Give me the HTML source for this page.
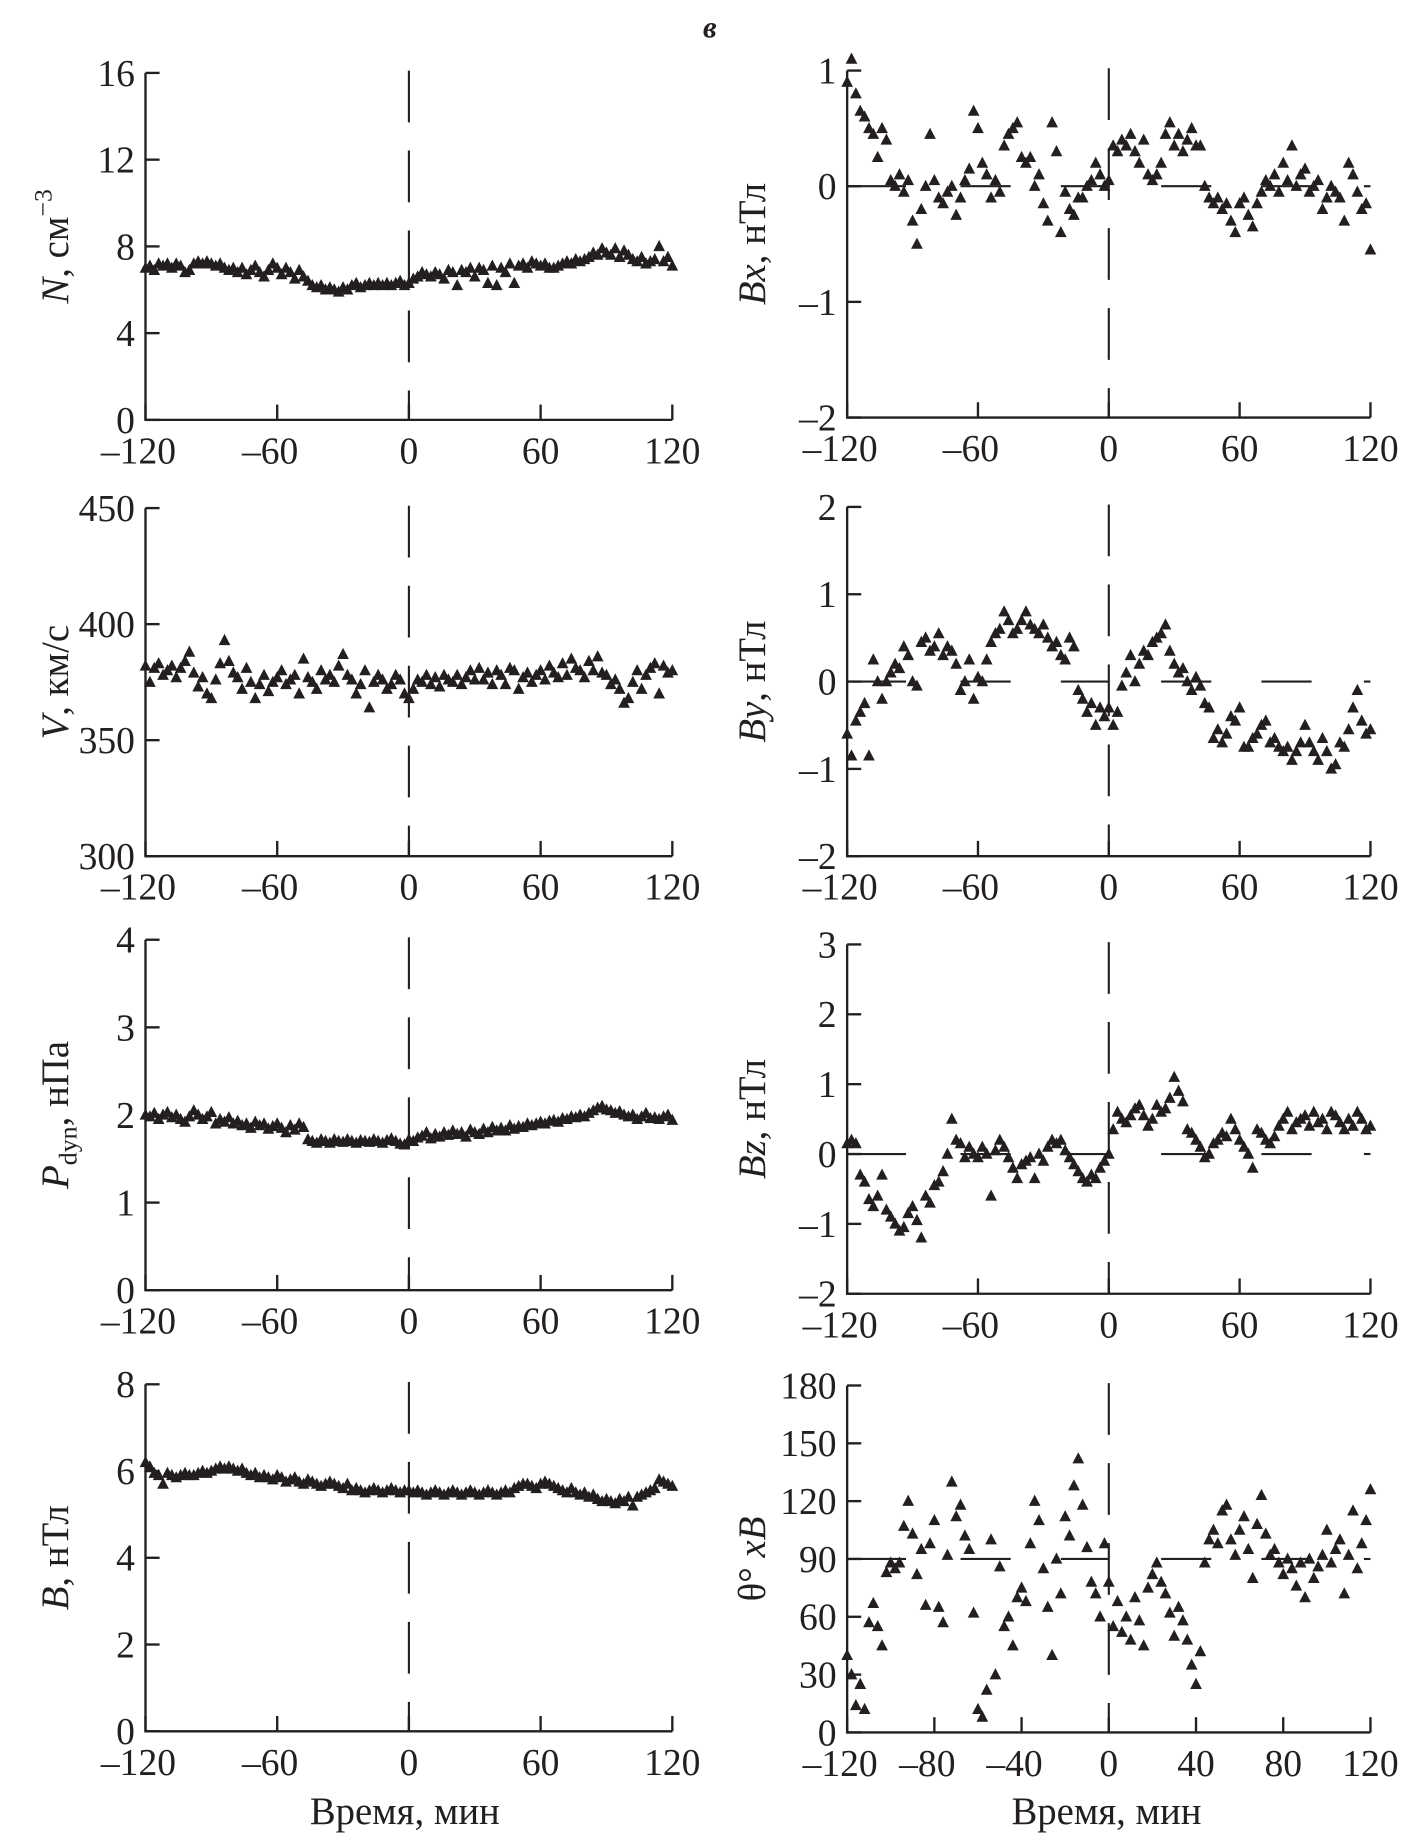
<!DOCTYPE html>
<html><head><meta charset="utf-8"><style>
html,body{margin:0;padding:0;background:#fff;}
svg{display:block;}
text{font-family:"Liberation Serif",serif;fill:#231f20;}
</style></head><body>
<svg id="fig" width="1408" height="1843" viewBox="0 0 1200 1567" preserveAspectRatio="none" xmlns="http://www.w3.org/2000/svg">
<text x="605" y="32" font-size="26" font-style="italic" font-weight="bold" text-anchor="middle">в</text>
<text x="345" y="1551" font-size="33" text-anchor="middle">Время,  мин</text>
<text x="943" y="1551" font-size="33" text-anchor="middle">Время,  мин</text>
</svg>
<script>
// data (time step 2 min, from -120 to 120)
const nValues=[7.0,7.1,6.9,7.2,7.1,7.2,7.0,7.2,7.1,6.8,6.9,
7.2,7.3,7.2,7.3,7.2,7.1,7.2,7.0,6.9,7.0,
6.8,7.0,6.7,6.9,7.1,6.8,6.6,6.9,7.2,7.0,
6.7,7.0,6.8,6.5,6.9,6.6,6.4,6.2,6.1,6.2,
6.0,6.1,6.0,5.9,6.1,6.0,6.2,6.3,6.1,6.2,
6.3,6.2,6.3,6.2,6.3,6.2,6.3,6.4,6.2,6.3,
6.5,6.6,6.8,6.7,6.6,6.8,6.7,6.5,6.9,6.8,
6.2,6.9,6.8,7.0,6.6,7.0,6.9,6.3,7.1,6.2,
7.0,6.8,7.2,6.3,7.1,7.2,7.0,7.3,7.2,7.1,
7.2,7.0,7.0,7.1,7.2,7.3,7.2,7.4,7.3,7.4,
7.5,7.7,7.6,7.9,7.7,7.6,7.9,7.5,7.8,7.6,
7.4,7.3,7.5,7.2,7.3,7.4,8.0,7.3,7.5,7.1];
const vValues=[382,375,381,383,378,380,382,377,381,384,388,
379,373,377,370,368,376,383,393,384,379,
377,372,381,375,368,374,378,371,375,377,
380,374,376,378,370,385,377,375,372,380,
376,378,375,382,387,378,376,370,374,380,
364,375,378,376,372,374,378,376,370,368,
372,376,375,378,374,377,373,378,376,375,
378,374,377,380,376,381,376,379,374,380,
378,374,381,380,372,377,379,375,378,380,
376,382,379,377,383,378,385,381,380,377,
384,380,386,379,378,374,376,372,366,368,
375,380,372,378,381,383,370,382,379,380];
const pValues=[2.0,1.98,2.02,1.95,2.0,2.03,1.97,2.0,1.95,1.92,1.98,
2.05,2.0,1.95,1.98,2.03,1.9,1.95,1.92,1.97,1.9,
1.93,1.88,1.9,1.85,1.92,1.88,1.9,1.84,1.87,1.9,
1.85,1.8,1.88,1.83,1.9,1.86,1.72,1.7,1.68,1.72,
1.7,1.68,1.72,1.7,1.69,1.72,1.7,1.68,1.71,1.7,
1.69,1.72,1.7,1.68,1.71,1.73,1.7,1.67,1.66,1.72,
1.7,1.74,1.76,1.8,1.73,1.78,1.75,1.8,1.77,1.82,
1.78,1.8,1.75,1.83,1.8,1.78,1.84,1.8,1.86,1.82,
1.85,1.82,1.88,1.84,1.87,1.86,1.9,1.88,1.9,1.92,
1.9,1.93,1.94,1.92,1.96,1.95,1.98,1.97,2.0,1.98,
2.02,2.05,2.08,2.1,2.06,2.05,2.02,2.04,2.0,1.98,
2.0,1.95,1.98,2.02,1.96,1.97,1.95,1.98,2.0,1.94];
const bValues=[6.2,6.1,5.95,5.9,5.7,5.95,5.9,5.85,5.9,5.95,5.9,
5.9,5.95,6.0,5.95,6.0,6.05,6.1,6.05,6.1,6.05,
6.0,6.05,5.95,5.9,5.95,5.85,5.9,5.85,5.8,5.9,
5.85,5.75,5.8,5.85,5.75,5.7,5.8,5.75,5.7,5.65,
5.7,5.75,5.7,5.65,5.6,5.7,5.55,5.6,5.55,5.5,
5.55,5.6,5.55,5.5,5.55,5.6,5.55,5.5,5.55,5.55,
5.5,5.55,5.5,5.45,5.5,5.55,5.5,5.45,5.5,5.55,
5.5,5.45,5.5,5.55,5.5,5.45,5.5,5.55,5.5,5.45,
5.5,5.55,5.5,5.6,5.65,5.7,5.7,5.65,5.6,5.7,
5.75,5.7,5.65,5.6,5.55,5.5,5.6,5.5,5.45,5.5,
5.4,5.45,5.35,5.3,5.35,5.3,5.25,5.35,5.3,5.4,
5.2,5.4,5.45,5.5,5.55,5.6,5.8,5.75,5.7,5.65];
const bxValues=[0.9,1.1,0.8,0.65,0.6,0.5,0.45,0.25,0.5,0.4,0.05,
0.0,0.1,-0.05,0.05,-0.3,-0.5,-0.2,0.0,0.45,0.05,
-0.1,-0.15,-0.05,0.0,-0.25,-0.1,0.05,0.15,0.65,0.5,
0.2,0.1,-0.1,0.05,-0.05,0.35,0.45,0.5,0.55,0.25,
0.2,0.25,0.0,0.1,-0.15,-0.3,0.55,0.3,-0.4,-0.05,
-0.2,-0.25,-0.1,-0.1,0.0,0.05,0.2,0.1,0.0,0.05,
0.35,0.3,0.4,0.35,0.45,0.3,0.2,0.4,0.1,0.05,
0.1,0.2,0.45,0.55,0.35,0.45,0.3,0.4,0.5,0.35,
0.35,0.0,-0.1,-0.15,-0.1,-0.2,-0.15,-0.3,-0.4,-0.15,
-0.1,-0.25,-0.35,-0.15,-0.05,0.05,0.0,0.1,-0.05,0.2,
0.05,0.35,0.0,0.1,0.15,-0.05,0.0,0.05,-0.2,-0.1,
0.0,-0.05,-0.1,-0.3,0.2,0.1,-0.05,-0.2,-0.15,-0.55];
const byValues=[-0.6,-0.85,-0.45,-0.35,-0.25,-0.85,0.25,0.0,-0.2,0.0,0.1,
0.2,0.15,0.4,0.3,0.0,-0.05,0.45,0.5,0.35,0.4,
0.55,0.3,0.4,0.35,0.2,-0.1,0.0,0.25,-0.2,0.05,
0.0,0.25,0.45,0.55,0.6,0.8,0.7,0.55,0.6,0.7,
0.8,0.65,0.6,0.55,0.65,0.5,0.4,0.45,0.3,0.25,
0.5,0.4,-0.1,-0.2,-0.35,-0.25,-0.5,-0.3,-0.4,-0.3,
-0.5,-0.35,-0.05,0.1,0.3,0.0,0.2,0.35,0.3,0.45,
0.5,0.55,0.65,0.35,0.2,0.1,0.15,0.0,-0.1,0.05,
-0.05,-0.25,-0.3,-0.65,-0.55,-0.7,-0.6,-0.4,-0.45,-0.3,
-0.75,-0.75,-0.65,-0.6,-0.5,-0.45,-0.7,-0.65,-0.75,-0.8,
-0.75,-0.9,-0.8,-0.7,-0.5,-0.7,-0.8,-0.9,-0.65,-0.8,
-1.0,-0.95,-0.7,-0.75,-0.55,-0.3,-0.1,-0.45,-0.6,-0.55];
const bzValues=[0.15,0.2,0.15,-0.3,-0.4,-0.65,-0.75,-0.6,-0.3,-0.8,-0.9,
-1.0,-1.1,-1.05,-0.85,-0.75,-0.95,-1.2,-0.6,-0.7,-0.45,
-0.4,-0.25,0.0,0.5,0.2,0.15,-0.05,0.1,0.0,-0.05,
0.1,0.0,-0.6,0.05,0.2,0.1,-0.05,-0.2,-0.35,-0.15,
-0.1,-0.05,-0.35,0.0,-0.1,0.1,0.2,0.15,0.2,0.05,
-0.05,-0.15,-0.25,-0.35,-0.4,-0.3,-0.35,-0.2,-0.1,0.0,
0.35,0.6,0.5,0.45,0.55,0.65,0.7,0.55,0.4,0.5,
0.7,0.6,0.65,0.8,1.1,0.9,0.75,0.35,0.3,0.2,
0.1,-0.05,0.0,0.15,0.2,0.3,0.25,0.5,0.35,0.2,
0.1,0.0,-0.2,0.35,0.3,0.2,0.15,0.25,0.4,0.5,
0.6,0.35,0.45,0.5,0.55,0.4,0.6,0.45,0.5,0.35,
0.6,0.55,0.45,0.35,0.5,0.4,0.6,0.5,0.35,0.4];
const thetaValues=[40,30,14,25,12,57,67,55,45,83,88,
85,88,107,120,103,82,95,66,98,110,
65,57,92,130,112,118,102,95,62,12,
8,22,100,30,86,55,60,45,70,75,
68,98,120,110,85,65,40,90,72,112,
102,128,142,118,96,78,72,60,98,78,
55,68,52,60,48,70,58,45,75,82,
88,78,72,62,50,65,58,48,35,25,
42,88,100,105,98,115,118,100,92,105,
112,95,80,108,123,103,92,95,88,82,
90,85,76,88,70,90,80,86,92,105,
88,95,100,72,92,115,85,98,110,126];
const xTicks6=[-120,-60,0,60,120];
const xTicks4=[-120,-80,-40,0,40,80,120];
const nTicks=[0,4,8,12,16];
const vTicks=[300,350,400,450];
const pTicks=[0,1,2,3,4];
const bTicks=[0,2,4,6,8];
const bxTicks=[-2,-1,0,1];
const byTicks=[-2,-1,0,1,2];
const bzTicks=[-2,-1,0,1,2,3];
const thTicks=[0,30,60,90,120,150,180];
const refSegments=[[-120,-93],[-68,-45],[-22,0],[24,47],[70,93],[117,120]];

const NS='http://www.w3.org/2000/svg';
const svg=document.getElementById('fig');
function mk(tag,attrs,parent){const e=document.createElementNS(NS,tag);for(const k in attrs)e.setAttribute(k,attrs[k]);(parent||svg).appendChild(e);return e;}

const panels=[
 {name:'density',vals:nValues,x0:124,x1:573,yT:62,yB:357,min:0,max:16,ticks:nTicks,xt:xTicks6,ref:null,title:'N',unit:', см',sup:'−3',tx:58},
 {name:'speed',vals:vValues,x0:124,x1:573,yT:432,yB:728,min:300,max:450,ticks:vTicks,xt:xTicks6,ref:null,title:'V',unit:', км/с',tx:58},
 {name:'pressure',vals:pValues,x0:124,x1:573,yT:799,yB:1097,min:0,max:4,ticks:pTicks,xt:xTicks6,ref:null,title:'P',sub:'dyn',unit:', нПа',tx:58},
 {name:'field-magnitude',vals:bValues,x0:124,x1:573,yT:1177,yB:1472,min:0,max:8,ticks:bTicks,xt:xTicks6,ref:null,title:'B',unit:', нТл',tx:58},
 {name:'bx',vals:bxValues,x0:722,x1:1168,yT:60,yB:355,min:-2,max:1,ticks:bxTicks,xt:xTicks6,ref:0,title:'Bx',unit:', нТл',tx:652},
 {name:'by',vals:byValues,x0:722,x1:1168,yT:431,yB:728,min:-2,max:2,ticks:byTicks,xt:xTicks6,ref:0,title:'By',unit:', нТл',tx:652},
 {name:'bz',vals:bzValues,x0:722,x1:1168,yT:803,yB:1100,min:-2,max:3,ticks:bzTicks,xt:xTicks6,ref:0,title:'Bz',unit:', нТл',tx:652},
 {name:'theta',vals:thetaValues,x0:722,x1:1168,yT:1178,yB:1473,min:0,max:180,ticks:thTicks,xt:xTicks4,ref:90,title:'θ° ',title2:'xB',tx:652}
];

function fmt(v){return v<0?'–'+(-v):String(v);}

panels.forEach(p=>{
 const g=mk('g',{});
 
 
 const xs=t=>p.x0+(t+120)/240*(p.x1-p.x0);
 const ys=v=>p.yB-(v-p.min)/(p.max-p.min)*(p.yB-p.yT);
 const ax=mk('path',{d:`M${p.x0},${p.yT} L${p.x0},${p.yB} L${p.x1},${p.yB}`,fill:'none',stroke:'#231f20','stroke-width':2},g);
 
 
 p.ticks.forEach(v=>{
  const y=ys(v);
  mk('line',{x1:p.x0,x2:p.x0+12,y1:y,y2:y,stroke:'#231f20','stroke-width':2},g);
  const t=mk('text',{x:p.x0-9,y:y+11,'font-size':32,'text-anchor':'end'},g);
  t.textContent=fmt(v);
  
  
 });
 p.xt.forEach(v=>{
  const x=xs(v);
  mk('line',{x1:x,x2:x,y1:p.yB,y2:p.yB-13,stroke:'#231f20','stroke-width':2},g);
  const t=mk('text',{x:x-(v<0?6:0),y:p.yB+37,'font-size':32,'text-anchor':'middle'},g);
  t.textContent=fmt(v);
  
  
 });
 const vl=mk('line',{x1:xs(0),x2:xs(0),y1:p.yT-2,y2:p.yB,stroke:'#231f20','stroke-width':1.8,'stroke-dasharray':'44,24'},g);
 
 
 if(p.ref!==null){
  refSegments.forEach(s=>{
   const l=mk('line',{x1:xs(s[0]),x2:xs(s[1]),y1:ys(p.ref),y2:ys(p.ref),stroke:'#231f20','stroke-width':1.8},g);
   
   
  });
 }
 p.vals.forEach((v,i)=>{
  const t=-120+i*2;
  const cx=xs(t),cy=ys(v);
  const m=mk('path',{d:`M${cx},${cy-5.5} L${cx+5},${cy+4} L${cx-5},${cy+4} Z`,fill:'#231f20'},g);
  
  
 });
 const cy=(p.yT+p.yB)/2;
 const tt=mk('text',{transform:`translate(${p.tx},${cy}) rotate(-90)`,'font-size':33,'text-anchor':'middle'},g);
 
 
 if(p.title2){
  const a=mk('tspan',{},tt);a.textContent=p.title;
  const u=mk('tspan',{'font-style':'italic'},tt);u.textContent=p.title2;
 } else {
  const a=mk('tspan',{'font-style':'italic'},tt);a.textContent=p.title;
  if(p.sub){const s=mk('tspan',{'font-size':22,dy:7},tt);s.textContent=p.sub;const u=mk('tspan',{dy:-7},tt);u.textContent=p.unit;}
  else {const u=mk('tspan',{},tt);u.textContent=p.unit;}
  if(p.sup){const s=mk('tspan',{'font-size':22,dy:-14},tt);s.textContent=p.sup;}
 }
});
</script>
</body></html>
